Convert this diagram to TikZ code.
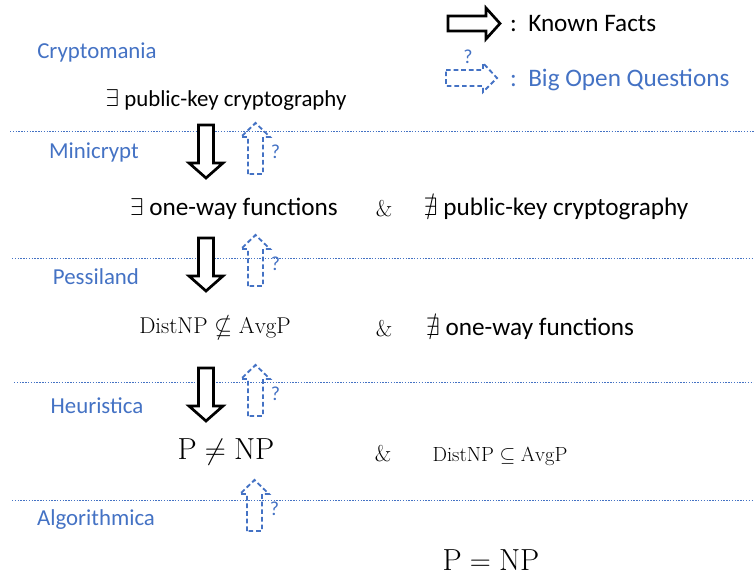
\documentclass[tikz,border=0pt]{standalone}
\usepackage{amsmath, amssymb}
\usepackage{fontspec}
\newfontfamily\calib{Carlito}
\usepackage{tikz}
\definecolor{worldblue}{HTML}{4472C4}

\begin{document}
\begin{tikzpicture}[x=0.03cm,y=-0.03cm]
                \tikzstyle{world}=[text=worldblue,font=\calib\fontsize{19.5}{23}\selectfont]
                \tikzstyle{claim}=[text=black,font=\calib\fontsize{21.5}{25}\selectfont]
                \tikzstyle{cls}=[text=black,font=\fontsize{19.5}{23}\selectfont]
                \tikzstyle{big}=[text=black,font=\fontsize{26}{30}\selectfont]
                \tikzstyle{border}=[worldblue,line width=0.7pt,dash pattern=on 1.2pt off 1.2pt]
                \tikzstyle{fact line}=[black,line width=2.3pt,fill=white,line join=miter]
                \tikzstyle{open line}=[worldblue,line width=1.6pt,dash pattern=on 4pt off 2.5pt]
                \tikzstyle{qmark}=[text=worldblue,font=\calib\fontsize{17}{20}\selectfont,inner sep=0pt]
                \tikzset{
                  fact/.pic={\draw[fact line] (-7.5,0) -- (-7.5,38) -- (-17,38) -- (0,53)
                                -- (17,38) -- (7.5,38) -- (7.5,0) -- cycle;},
                  open/.pic={\draw[open line] (-7.5,0) -- (-7.5,-37) -- (-14.5,-37) -- (0,-51)
                                -- (14.5,-37) -- (7.5,-37) -- (7.5,0) -- cycle;
                             \node[qmark] at (20,-22) {?};}
                }
                \useasboundingbox (0,0) rectangle (754,576);

                % legend
                \draw[fact line] (448,16) -- (486,16) -- (486,8) -- (500,23.5) -- (486,39)
                    -- (486,31) -- (448,31) -- cycle;
                \node[claim,anchor=west]  (known) at (506,24) {:\ \ Known Facts};
                \draw[open line] (446,70) -- (483,70) -- (483,63) -- (497,78) -- (483,92)
                    -- (483,86) -- (446,86) -- cycle;
                \node[qmark]              (legq)  at (468,57) {?};
                \node[world,anchor=west,font=\calib\fontsize{21.5}{25}\selectfont]
                                          (open)  at (506,80) {:\ \ Big Open Questions};

                % worlds
                \node[world]  (W1) at (97,52)   {Cryptomania};
                \node[world]  (W2) at (94,152)  {Minicrypt};
                \node[world]  (W3) at (96,277)  {Pessiland};
                \node[world]  (W4) at (97,406)  {Heuristica};
                \node[world]  (W5) at (96,520)  {Algorithmica};

                \draw[border] (10,131) -- (754,131);
                \draw[border] (12,258) -- (754,258);
                \draw[border] (14,382) -- (754,382);
                \draw[border] (12,500) -- (754,500);

                % statements
                \node[claim,font=\calib\fontsize{19.5}{23}\selectfont]
                              (pk)    at (226,100) {$\exists$ public-key cryptography};
                \node[claim]  (owf)   at (234,209) {$\exists$ one-way functions};
                \node[cls]    (amp1)  at (384,209) {\&};
                \node[claim]  (npk)   at (556,209) {$\nexists$ public-key cryptography};
                \node[cls]    (dist)  at (215,328) {$\mathrm{DistNP}\nsubseteq\mathrm{AvgP}$};
                \node[cls]    (amp2)  at (384,329) {\&};
                \node[claim]  (nowf)  at (530,329) {$\nexists$ one-way functions};
                \node[big]    (pnp)   at (226,452) {$\mathrm{P}\neq\mathrm{NP}$};
                \node[cls]    (amp3)  at (383,454) {\&};
                \node[cls,font=\fontsize{17.5}{21}\selectfont]
                              (inavg) at (500,456) {$\mathrm{DistNP}\subseteq\mathrm{AvgP}$};
                \node[big]    (peq)   at (491,560) {$\mathrm{P}=\mathrm{NP}$};

                % arrows between worlds
                \pic at (206,125) {fact};
                \pic at (206,238) {fact};
                \pic at (206,368) {fact};
                \pic at (255.5,174) {open};
                \pic at (255.5,286) {open};
                \pic at (255.5,416) {open};
                \pic at (254.5,531) {open};
            \end{tikzpicture}
\end{document}
